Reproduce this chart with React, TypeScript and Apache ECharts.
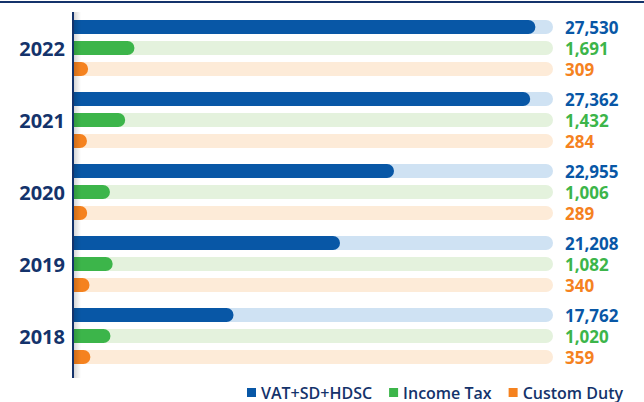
import React, { useEffect, useRef } from "react";
import * as echarts from "echarts";

const years = ["2022", "2021", "2020", "2019", "2018"];
const vatValues = [27530, 27362, 22955, 21208, 17762];
const incomeValues = [1691, 1432, 1006, 1082, 1020];
const customValues = [309, 284, 289, 340, 359];
const seriesNames = ["VAT+SD+HDSC", "Income Tax", "Custom Duty"];

const NAVY = "#14336b";
const C_VAT = "#0857a6";
const C_INC = "#3cb54a";
const C_CUS = "#f5821f";
const BG_VAT = "#cfe2f3";
const BG_INC = "#e4f2dd";
const BG_CUS = "#fdebd8";

const fmt = (v: number) => v.toLocaleString("en-US");

export default function App() {
  const ref = useRef<HTMLDivElement>(null);
  useEffect(() => {
    if (!ref.current) return;
    const chart = echarts.init(ref.current, null, { renderer: "svg" });
    const FONT = "'Open Sans', sans-serif";
    const barCommon = (color: string, bg: string) => ({
      type: "bar" as const,
      yAxisIndex: 0,
      barWidth: 14,
      barGap: "50%",
      itemStyle: { color, borderRadius: [0, 7, 7, 0] },
      showBackground: true,
      backgroundStyle: { color: bg, borderRadius: [0, 7, 7, 0] },
    });
    chart.setOption({
      animation: false,
      textStyle: { fontFamily: FONT },
      grid: { left: 74, right: 91, top: 12, bottom: 30, containLabel: false },
      legend: {
        left: 247,
        top: 384,
        padding: 0,
        itemWidth: 9,
        itemHeight: 9,
        itemGap: 17,
        icon: "rect",
        data: seriesNames,
        textStyle: { color: NAVY, fontSize: 16, fontWeight: 600, fontFamily: FONT, lineHeight: 17 },
      },
      xAxis: [
        { type: "value", min: 12600, max: 28100, show: false },
        { type: "value", min: 0, max: 13400, show: false },
        { type: "value", min: 0, max: 10500, show: false },
      ],
      yAxis: [
        {
          type: "category",
          data: years,
          inverse: true,
          axisLine: { show: false },
          axisTick: { show: false },
          axisLabel: {
            color: NAVY,
            fontSize: 20,
            fontWeight: 700,
            fontFamily: FONT,
            margin: 9,
          },
        },
        {
          type: "category",
          data: years,
          inverse: true,
          position: "right",
          axisLine: { show: false },
          axisTick: { show: false },
          axisLabel: {
            margin: 12,
            align: "left",
            formatter: (_v: string, i: number) =>
              `{a|${fmt(vatValues[i])}}\n{b|${fmt(incomeValues[i])}}\n{c|${fmt(customValues[i])}}`,
            rich: {
              a: { color: C_VAT, fontSize: 17, fontWeight: 700, lineHeight: 21, fontFamily: FONT },
              b: { color: C_INC, fontSize: 17, fontWeight: 700, lineHeight: 21, fontFamily: FONT },
              c: { color: C_CUS, fontSize: 17, fontWeight: 700, lineHeight: 21, fontFamily: FONT },
            },
          },
        },
      ],
      series: [
        { ...barCommon(C_VAT, BG_VAT), name: seriesNames[0], xAxisIndex: 0, data: vatValues },
        { ...barCommon(C_INC, BG_INC), name: seriesNames[1], xAxisIndex: 1, data: incomeValues },
        { ...barCommon(C_CUS, BG_CUS), name: seriesNames[2], xAxisIndex: 2, data: customValues },
      ],
      graphic: [
        {
          type: "line",
          shape: { x1: 0, y1: 2, x2: 644, y2: 2 },
          style: { stroke: NAVY, lineWidth: 2 },
          z: 100,
        },
        {
          type: "rect",
          shape: { x: 74, y: 12, width: 7, height: 366 },
          style: {
            fill: new echarts.graphic.LinearGradient(0, 0, 1, 0, [
              { offset: 0, color: "rgba(0,0,0,0.16)" },
              { offset: 1, color: "rgba(0,0,0,0)" },
            ]),
          },
          z: 100,
        },
        {
          type: "line",
          shape: { x1: 73, y1: 12, x2: 73, y2: 378 },
          style: { stroke: NAVY, lineWidth: 2 },
          z: 101,
        },
      ],
    });
    return () => chart.dispose();
  }, []);
  return (
    <div
      ref={ref}
      style={{ position: "fixed", left: 0, top: 0, width: 644, height: 402, background: "#fff" }}
    />
  );
}
